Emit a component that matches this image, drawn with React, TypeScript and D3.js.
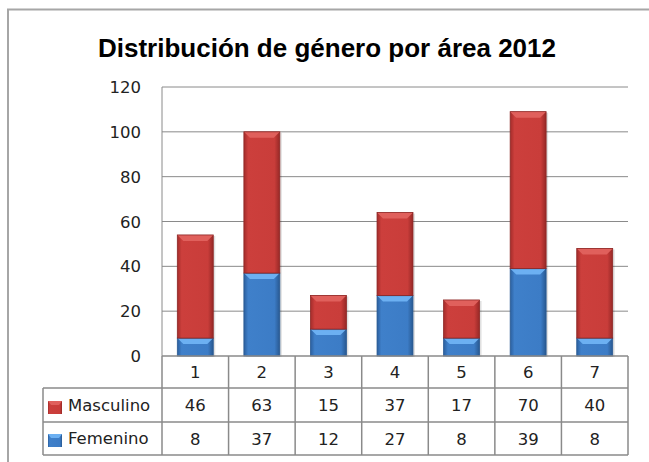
import React from 'react';
import * as d3 from 'd3';

const categories = ['1', '2', '3', '4', '5', '6', '7'];
const femenino = [8, 37, 12, 27, 8, 39, 8];
const masculino = [46, 63, 15, 37, 17, 70, 40];
const yTicks = [0, 20, 40, 60, 80, 100, 120];

const W = 649;
const H = 462;
const plot = { left: 162, right: 628, top: 87, bottom: 356 };
const rowH = [32, 34, 33];
const legendLeft = 43;
const font = '"DejaVu Sans", Verdana, sans-serif';

export default function App() {
  const x = d3
    .scaleBand()
    .domain(categories)
    .range([plot.left, plot.right])
    .paddingInner(0.46)
    .paddingOuter(0.23);
  const col = d3.scaleBand().domain(categories).range([plot.left, plot.right]);
  const y = d3.scaleLinear().domain([0, 120]).range([plot.bottom, plot.top]);

  const stacked = categories.map((c, i) => [
    { key: 'f', y0: 0, y1: femenino[i] },
    { key: 'm', y0: femenino[i], y1: femenino[i] + masculino[i] },
  ]);

  const row1 = plot.bottom + rowH[0];
  const row2 = row1 + rowH[1];
  const row3 = row2 + rowH[2];

  const seg = (c: string, s: { key: string; y0: number; y1: number }) => {
    const bx = x(c)!;
    const bw = x.bandwidth();
    const top = y(s.y1);
    const h = y(s.y0) - top;
    const bev = Math.min(6, h / 2);
    const red = s.key === 'm';
    return (
      <g key={c + s.key}>
        <rect x={bx + 2} y={top + 1} width={bw} height={h} fill="#000" opacity={0.12} />
        <rect x={bx} y={top} width={bw} height={h} fill={red ? 'url(#gRed)' : 'url(#gBlue)'} />
        <path
          d={`M${bx},${top}L${bx + bw},${top}L${bx + bw - 6},${top + bev}L${bx + 6},${top + bev}Z`}
          fill={red ? '#e0605c' : '#6cb0f2'}
        />
        <rect x={bx} y={top} width={bw} height={h} fill="none" stroke={red ? '#8e2725' : '#2a5a93'} strokeWidth={0.8} />
      </g>
    );
  };

  return (
    <svg width={W} height={H} style={{ position: 'absolute', left: 0, top: 0 }}>
      <defs>
        <linearGradient id="gRed" x1="0" x2="1" y1="0" y2="0">
          <stop offset="0" stopColor="#a32c2a" />
          <stop offset="0.12" stopColor="#cc3f3c" />
          <stop offset="0.85" stopColor="#c93d3a" />
          <stop offset="1" stopColor="#962826" />
        </linearGradient>
        <linearGradient id="gBlue" x1="0" x2="1" y1="0" y2="0">
          <stop offset="0" stopColor="#2b5f9e" />
          <stop offset="0.12" stopColor="#3f80ca" />
          <stop offset="0.85" stopColor="#3c7cc6" />
          <stop offset="1" stopColor="#285890" />
        </linearGradient>
      </defs>
      <rect x={0} y={0} width={W} height={H} fill="#fff" />
      <rect x={8} y={9.5} width={W + 20} height={H + 20} fill="none" stroke="#a6a6a6" strokeWidth={2} />

      <text x={327} y={57} textAnchor="middle" fontFamily='"Liberation Sans", Arial, sans-serif' fontWeight="bold" fontSize={26} fill="#000">
        Distribución de género por área 2012
      </text>

      {yTicks.map(t => (
        <g key={t}>
          {t > 0 && (
            <line x1={plot.left} x2={plot.right} y1={y(t)} y2={y(t)} stroke="#8a8a8a" strokeWidth={1} />
          )}
          <text x={141} y={y(t) + 6} textAnchor="end" fontFamily={font} fontSize={16.5} fill="#222">
            {t}
          </text>
        </g>
      ))}
      <line x1={plot.left} x2={plot.left} y1={plot.top} y2={plot.bottom} stroke="#8a8a8a" />

      {stacked.map((st, i) => st.map(s => seg(categories[i], s)))}

      {/* data table */}
      <g stroke="#8a8a8a" strokeWidth={1.5} fill="none">
        <line x1={plot.left} x2={plot.right} y1={plot.bottom} y2={plot.bottom} />
        <line x1={legendLeft} x2={plot.right} y1={row1} y2={row1} />
        <line x1={legendLeft} x2={plot.right} y1={row2} y2={row2} />
        <line x1={legendLeft} x2={plot.right} y1={row3} y2={row3} />
        <line x1={legendLeft} x2={legendLeft} y1={row1} y2={row3} />
        {categories.map(c => (
          <line key={c} x1={col(c)!} x2={col(c)!} y1={plot.bottom} y2={row3} />
        ))}
        <line x1={plot.right} x2={plot.right} y1={plot.bottom} y2={row3} />
      </g>
      <g fontFamily={font} fontSize={16.5} fill="#222" textAnchor="middle">
        {categories.map((c, i) => (
          <g key={c}>
            <text x={col(c)! + col.bandwidth() / 2} y={plot.bottom + 22}>{c}</text>
            <text x={col(c)! + col.bandwidth() / 2} y={row1 + 23}>{masculino[i]}</text>
            <text x={col(c)! + col.bandwidth() / 2} y={row2 + 23}>{femenino[i]}</text>
          </g>
        ))}
      </g>
      <rect x={48} y={row1 + 13} width={14} height={13} fill="url(#gRed)" />
      <path d={`M48,${row1 + 13}h14l-3,4h-8z`} fill="#e0605c" />
      <text x={68} y={row1 + 23} fontFamily={font} fontSize={16.5} fill="#222">Masculino</text>
      <rect x={48} y={row2 + 12} width={14} height={13} fill="url(#gBlue)" />
      <path d={`M48,${row2 + 12}h14l-3,4h-8z`} fill="#6cb0f2" />
      <text x={68} y={row2 + 22} fontFamily={font} fontSize={16.5} fill="#222">Femenino</text>
    </svg>
  );
}
